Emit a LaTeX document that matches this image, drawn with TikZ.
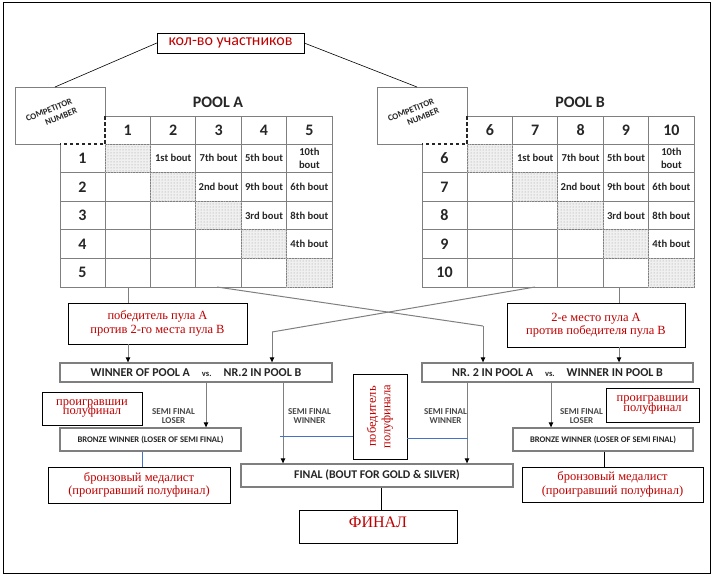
\documentclass[tikz,border=0pt]{standalone}
\usepackage{fontspec}
\setmainfont{Liberation Serif}
\setsansfont{Carlito}
\usepackage{tikz}
\usetikzlibrary{patterns}
\usetikzlibrary{arrows.meta}
\usetikzlibrary{calc}
\usetikzlibrary{positioning}
\usepackage{xcolor}
\definecolor{myred}{HTML}{C00000}
\definecolor{mygrey}{HTML}{7F7F7F}
\definecolor{mytext}{HTML}{262626}
\definecolor{myblue}{HTML}{4472C4}
\tikzset{every text node part/.style={align=center}}
\tikzstyle{grid} = [draw=mygrey, line width=1pt]
\tikzstyle{head} = [text=mytext, inner sep=0pt, font={\sffamily\bfseries\fontsize{16}{16}\selectfont}]
\tikzstyle{bout} = [text=mytext, inner sep=0pt, font={\sffamily\bfseries\fontsize{10.6}{12.5}\selectfont}]
\tikzstyle{redbox} = [draw=black, fill=white, text=myred, inner sep=0pt, font={\rmfamily\fontsize{12.5}{13.5}\selectfont}]
\tikzstyle{tightred} = [redbox, font={\rmfamily\fontsize{12.5}{9.5}\selectfont\lineskiplimit=-20pt}]
\tikzstyle{greybox} = [draw=mygrey, line width=1.3pt, fill=white, text=mytext, inner sep=0pt]
\tikzstyle{ln} = [draw=mygrey, line width=1pt]
\tikzstyle{arr} = [ln, -{Triangle[length=5pt, width=4.5pt, black]}]
\tikzstyle{tag} = [text=mytext!85, inner sep=0pt, align=left, anchor=west, font={\sffamily\bfseries\fontsize{9}{9.5}\selectfont}]
\tikzstyle{blueln} = [draw=myblue, line width=0.8pt]

\begin{document}
\begin{tikzpicture}[x=1pt, y=-1pt]
  \useasboundingbox (0,0) rectangle (714,576);
  \draw[black, line width=0.8pt] (3,2) rectangle (710,573);

  \node[draw=black, fill=white, text=myred, inner sep=0pt, minimum width=147, minimum height=20,
        font={\sffamily\fontsize{16}{16}\selectfont}] (count) at (230.5,43) {кол-во участников};

  % the two pools
  \foreach \ox/\pool/\first in {0/A/1, 362/B/6} {
    \fill[gray!12] \foreach \i in {0,...,4} {({\ox+105+45.4*\i},{144+28.6*\i}) rectangle +(45.4,28.6)};
    \path[pattern=dots, pattern color=gray!80] \foreach \i in {0,...,4} {({\ox+105+45.4*\i},{144+28.6*\i}) rectangle +(45.4,28.6)};
    \draw[grid] (\ox+105,116) -- (\ox+332,116) -- (\ox+332,287) -- (\ox+60,287) -- (\ox+60,144);
    \draw[grid] (\ox+105,144) -- (\ox+332,144);
    \draw[grid] (\ox+105,144) -- (\ox+105,287);
    \foreach \j in {1,...,4} \draw[grid] (\ox+60,{144+28.6*\j}) -- (\ox+332,{144+28.6*\j});
    \foreach \j in {1,...,4} \draw[grid] ({\ox+105+45.4*\j},116) -- ({\ox+105+45.4*\j},287);
    \draw[draw=mygrey!60, dotted, line width=0.8pt] \foreach \i in {0,...,4} {({\ox+105+45.4*\i},{144+28.6*\i}) rectangle +(45.4,28.6)};
    % competitor box
    \draw[grid] (\ox+60,144) -- (\ox+15,144) -- (\ox+15,87) -- (\ox+105,87) -- (\ox+105,116);
    \draw[draw=mytext, line width=1.3pt, dash pattern=on 3.5pt off 2.5pt] (\ox+105,116) -- (\ox+105,144) -- (\ox+60,144);
    \node[text=mytext, inner sep=0pt, rotate=22, font={\sffamily\bfseries\fontsize{8.8}{10.5}\selectfont}] (comp\pool) at (\ox+51,115) {COMPETITOR\\\hspace*{2em}NUMBER};
    \coordinate (comptop\pool) at (\ox+55,87);
    \node[head] (title\pool) at (\ox+218,102) {POOL \pool};
    \foreach \c in {1,...,5} {
      \pgfmathtruncatemacro\num{\first+\c-1}
      \node[head] (h\pool\c) at ({\ox+82.4+45.4*\c},130) {\num};
      \node[head] (r\pool\c) at (\ox+82.5,{129.7+28.6*\c}) {\num};
    }
    \foreach \r/\c/\txt in {1/2/1st bout, 1/3/7th bout, 1/4/5th bout, 1/5/{10th\\bout},
                            2/3/2nd bout, 2/4/9th bout, 2/5/6th bout,
                            3/4/3rd bout, 3/5/8th bout, 4/5/4th bout}
      \node[bout] (b\pool\r\c) at ({\ox+82.4+45.4*\c},{129.7+28.6*\r}) {\txt};
  }
  \draw[black, line width=0.6pt] (count.west) -- (comptopA);
  \draw[black, line width=0.6pt] (count.east) -- (comptopB);

  % ends at the bottom of the pools
  \coordinate (outA1) at (128,287);
  \coordinate (outA2) at (217,287);
  \coordinate (outB1) at (535,287);
  \coordinate (outB2) at (619,287);
  \coordinate (bendA) at (483,326);
  \coordinate (bendB) at (272,332);

  \node[redbox, minimum width=179, minimum height=41] (winA) at (157.5,323.5) {победитель пула А\\против 2-го места пула В};
  \node[redbox, minimum width=178, minimum height=44] (secB) at (596,325) {2-е место пула А\\против победителя пула В};

  \node[greybox, minimum width=272, minimum height=19, font={\sffamily\bfseries\fontsize{12}{12}\selectfont}] (semiA) at (196,372.5)
    {WINNER OF POOL A\quad{\fontsize{8.5}{8.5}\selectfont vs.}\quad NR.2 IN POOL B};
  \node[greybox, minimum width=271, minimum height=19, font={\sffamily\bfseries\fontsize{12}{12}\selectfont}] (semiB) at (557.5,372.5)
    {NR. 2 IN POOL A\quad{\fontsize{8.5}{8.5}\selectfont vs.}\quad WINNER IN POOL B};

  \node[tightred, minimum width=100, minimum height=33] (loseA) at (92,408.5) {проигравшии\\полуфинал};
  \node[tightred, minimum width=93, minimum height=34] (loseB) at (652.5,405) {проигравшии\\полуфинал};

  \node[greybox, minimum width=181, minimum height=23, font={\sffamily\bfseries\fontsize{8.6}{8.6}\selectfont}] (bronzeA) at (150.5,439.5) {BRONZE WINNER (LOSER OF SEMI FINAL)};
  \node[greybox, minimum width=180, minimum height=23, font={\sffamily\bfseries\fontsize{8.6}{8.6}\selectfont}] (bronzeB) at (603,439.5) {BRONZE WINNER (LOSER OF SEMI FINAL)};

  \node[redbox, minimum width=182, minimum height=36] (medalA) at (139,485) {бронзовый медалист\\(проигравший полуфинал)};
  \node[redbox, minimum width=181, minimum height=35] (medalB) at (612.5,484.5) {бронзовый медалист\\(проигравший полуфинал)};

  \node[greybox, minimum width=272, minimum height=23, font={\sffamily\bfseries\fontsize{11.8}{11.8}\selectfont}] (final) at (377,475.5) {FINAL (BOUT FOR GOLD \& SILVER)};
  \node[redbox, minimum width=158, minimum height=33, text depth=8pt, font={\rmfamily\fontsize{16}{16}\selectfont}] (finalRu) at (378,526.5) {ФИНАЛ};

  \node[redbox, rotate=90, minimum width=85, minimum height=54, font={\rmfamily\fontsize{12.5}{14.5}\selectfont}] (winRu) at (380,416.5) {победитель\\полуфинала};

  % connectors
  \draw[ln] (outA1) -- (outA1 |- winA.north);
  \draw[arr] (outA1 |- winA.south) -- (outA1 |- semiA.north);
  \draw[ln] (outB2) -- (outB2 |- secB.north);
  \draw[arr] (outB2 |- secB.south) -- (outB2 |- semiB.north);
  \draw[ln] (outA2) -- (bendA);
  \draw[arr] (bendA) -- (bendA |- semiB.north);
  \draw[ln] (outB1) -- (bendB);
  \draw[arr] (bendB) -- (bendB |- semiA.north);

  \coordinate (losA) at (206,382);
  \coordinate (winsA) at (283,382);
  \coordinate (winsB) at (467,382);
  \coordinate (losB) at (551,382);
  \draw[arr] (losA) -- (losA |- bronzeA.north);
  \draw[arr] (winsA) -- (winsA |- final.north);
  \draw[arr] (winsB) -- (winsB |- final.north);
  \draw[arr] (losB) -- (losB |- bronzeB.north);

  \node[tag] (tlosA) at (152,416) {SEMI FINAL\\LOSER};
  \node[tag] (twinA) at (288,416) {SEMI FINAL\\WINNER};
  \node[tag] (twinB) at (424,416) {SEMI FINAL\\WINNER};
  \node[tag] (tlosB) at (560,416) {SEMI FINAL\\LOSER};

  \draw[blueln] (bronzeA.south -| 142,0) -- (medalA.north -| 142,0);
  \draw[black, line width=0.6pt] (bronzeB.south -| 604,0) -- (medalB.north -| 604,0);
  \draw[black, line width=0.6pt] (final.south -| 381,0) -- (finalRu.north -| 381,0);
  % rotated node: its north side faces left, its south side faces right
  \draw[blueln] (280,436) -- (winRu.north |- 0,436);
  \draw[blueln] (winRu.south |- 0,438) -- (468,438);
\end{tikzpicture}
\end{document}
